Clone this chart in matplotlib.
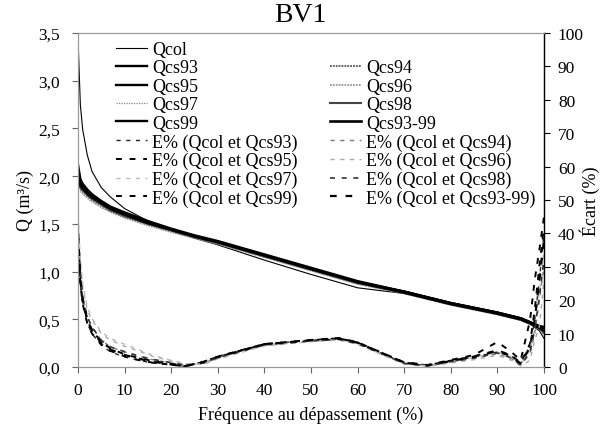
import matplotlib
matplotlib.use("Agg")
import matplotlib.pyplot as plt
from matplotlib.lines import Line2D
from matplotlib.ticker import FuncFormatter, MultipleLocator

plt.rcParams['font.family'] = ['Liberation Serif', 'DejaVu Serif']

# Flow duration curves (m3/s) vs exceedance frequency (%)
freq = [0, 0.5, 1, 2, 3, 5, 7, 10, 15, 20, 25, 30, 40, 50, 60, 70, 80, 90, 95, 97, 99, 100]

q_col = [3.45, 2.75, 2.49, 2.22, 2.05, 1.88, 1.78, 1.66, 1.53, 1.43, 1.35, 1.28, 1.12, 0.97, 0.83, 0.77, 0.66, 0.55, 0.49, 0.45, 0.38, 0.30]
q_cs93 = [2.12, 1.97, 1.92, 1.86, 1.81, 1.74, 1.68, 1.62, 1.53, 1.45, 1.38, 1.32, 1.18, 1.04, 0.90, 0.79, 0.67, 0.57, 0.51, 0.47, 0.42, 0.38]
q_cs94 = [1.95, 1.90, 1.86, 1.81, 1.77, 1.71, 1.65, 1.59, 1.50, 1.43, 1.36, 1.30, 1.16, 1.02, 0.88, 0.78, 0.66, 0.56, 0.50, 0.46, 0.41, 0.35]
q_cs95 = [2.05, 1.94, 1.90, 1.84, 1.80, 1.73, 1.67, 1.61, 1.52, 1.44, 1.37, 1.31, 1.17, 1.03, 0.89, 0.79, 0.67, 0.57, 0.51, 0.47, 0.42, 0.40]
q_cs96 = [1.88, 1.86, 1.83, 1.78, 1.74, 1.68, 1.63, 1.57, 1.49, 1.42, 1.35, 1.29, 1.15, 1.01, 0.87, 0.77, 0.65, 0.55, 0.49, 0.45, 0.40, 0.34]
q_cs97 = [1.85, 1.84, 1.81, 1.77, 1.73, 1.67, 1.62, 1.56, 1.48, 1.41, 1.35, 1.29, 1.15, 1.01, 0.87, 0.77, 0.65, 0.55, 0.49, 0.45, 0.41, 0.37]
q_cs98 = [1.92, 1.88, 1.85, 1.80, 1.76, 1.70, 1.64, 1.58, 1.50, 1.43, 1.36, 1.30, 1.16, 1.02, 0.88, 0.78, 0.66, 0.56, 0.50, 0.46, 0.41, 0.36]
q_cs99 = [2.00, 1.92, 1.88, 1.83, 1.79, 1.72, 1.66, 1.60, 1.51, 1.44, 1.37, 1.31, 1.17, 1.03, 0.89, 0.79, 0.67, 0.57, 0.51, 0.47, 0.43, 0.42]
q_cs9399 = [1.98, 1.91, 1.87, 1.82, 1.78, 1.72, 1.66, 1.60, 1.51, 1.44, 1.37, 1.31, 1.17, 1.03, 0.89, 0.78, 0.66, 0.56, 0.50, 0.46, 0.41, 0.38]

# Relative gap (%) between Qcol and each simulated series
freq_e = [0, 0.5, 1, 2, 3, 5, 7, 10, 13, 16, 20, 23, 27, 30, 40, 50, 56, 60, 65, 70, 75, 80, 85, 90, 93, 95, 97, 98, 99, 100]

e93 = [38, 25, 19, 13, 10, 6.5, 4.5, 3.0, 2.0, 1.2, 0.6, 0.2, 1.6, 3.2, 6.9, 8.0, 8.5, 7.2, 4.2, 1.2, 0.4, 1.8, 3.0, 4.5, 3.2, 1.0, 6, 14, 26, 40]
e94 = [43, 28, 21, 15, 12, 8, 6, 4.5, 3.2, 2.2, 1.2, 0.5, 1.2, 2.8, 6.6, 7.8, 8.3, 7.0, 4.0, 1.0, 0.3, 1.5, 2.6, 4.0, 2.5, 0.5, 4, 10, 20, 30]
e95 = [41, 26, 20, 14, 11, 7.5, 5.5, 3.8, 2.7, 1.8, 0.9, 0.3, 1.5, 3.0, 6.8, 8.0, 8.6, 7.3, 4.3, 1.3, 0.5, 1.9, 3.2, 5.0, 3.5, 1.2, 7, 17, 30, 42]
e96 = [45, 31, 24, 17, 14, 10, 8, 6.2, 4.8, 3.2, 1.8, 0.8, 0.9, 2.5, 6.4, 7.6, 8.1, 6.8, 3.8, 0.8, 0.2, 1.2, 2.2, 3.5, 2.0, 0.3, 2, 8, 12, 26]
e97 = [46, 32, 25, 18, 14.5, 10.5, 8.5, 6.8, 5.2, 3.5, 2.0, 1.0, 0.8, 2.4, 6.3, 7.6, 8.1, 6.9, 3.9, 0.9, 0.4, 1.5, 2.8, 4.5, 3.0, 0.7, 5, 12, 22, 35]
e98 = [42, 28, 21, 15, 12, 8, 6, 4.6, 3.3, 2.3, 1.3, 0.5, 1.2, 2.8, 6.6, 7.8, 8.3, 7.0, 4.1, 1.1, 0.3, 1.6, 2.7, 4.2, 2.7, 0.6, 4.5, 11, 21, 32]
e99 = [39, 25, 19, 13, 10, 6.8, 4.8, 3.2, 2.1, 1.3, 0.7, 0.2, 1.6, 3.1, 6.9, 8.1, 8.7, 7.4, 4.4, 1.4, 0.6, 2.1, 3.6, 7.5, 4.5, 2.0, 14, 26, 35, 45]
e9399 = [40, 26, 20, 14, 11, 7.2, 5.2, 3.6, 2.5, 1.6, 0.8, 0.3, 1.5, 3.0, 6.8, 8.0, 8.5, 7.3, 4.3, 1.3, 0.5, 1.8, 3.1, 4.8, 3.3, 1.0, 6, 14, 26, 38]

fig = plt.figure(figsize=(6.08, 4.35), dpi=100)
ax = fig.add_axes([78 / 608, 1 - 368 / 435, 466 / 608, 334 / 435])
ax2 = ax.twinx()

q_styles = [
    ("Qcol", q_col, dict(color="black", lw=0.8)),
    ("Qcs93", q_cs93, dict(color="black", lw=1.7)),
    ("Qcs94", q_cs94, dict(color="#555555", lw=1.3, ls=(0, (1, 0.6)))),
    ("Qcs95", q_cs95, dict(color="black", lw=1.7)),
    ("Qcs96", q_cs96, dict(color="#999999", lw=1.3, ls=(0, (1, 0.6)))),
    ("Qcs97", q_cs97, dict(color="#888888", lw=0.9, ls=(0, (1, 1)))),
    ("Qcs98", q_cs98, dict(color="#444444", lw=1.5)),
    ("Qcs99", q_cs99, dict(color="black", lw=1.7)),
    ("Qcs93-99", q_cs9399, dict(color="black", lw=1.9)),
]
e_styles = [
    ("E% (Qcol et Qcs93)", e93, dict(color="#222222", lw=1.0)),
    ("E% (Qcol et Qcs94)", e94, dict(color="#777777", lw=1.0)),
    ("E% (Qcol et Qcs95)", e95, dict(color="black", lw=1.4)),
    ("E% (Qcol et Qcs96)", e96, dict(color="#aaaaaa", lw=1.0)),
    ("E% (Qcol et Qcs97)", e97, dict(color="#bbbbbb", lw=1.0)),
    ("E% (Qcol et Qcs98)", e98, dict(color="#333333", lw=1.2)),
    ("E% (Qcol et Qcs99)", e99, dict(color="black", lw=1.4)),
    ("E% (Qcol et Qcs93-99)", e9399, dict(color="black", lw=1.6)),
]

handles = {}
for name, vals, st in q_styles:
    handles[name], = ax.plot(freq, vals, label=name, **st)
for name, vals, st in e_styles:
    handles[name], = ax2.plot(freq_e, vals, label=name, ls=(0, (3, 4)), **st)

ax.set_xlim(0, 100)
ax.set_ylim(0, 3.5)
ax2.set_ylim(0, 100)
ax.xaxis.set_major_locator(MultipleLocator(10))
ax.yaxis.set_major_locator(MultipleLocator(0.5))
ax2.yaxis.set_major_locator(MultipleLocator(10))
ax.yaxis.set_major_formatter(FuncFormatter(lambda v, p: f"{v:.1f}".replace(".", ",")))

for a in (ax, ax2):
    for s in a.spines.values():
        s.set_color("#999999")
        s.set_linewidth(0.8)
ax2.spines["right"].set_color("black")
ax2.spines["right"].set_linewidth(1.0)

ax.tick_params(direction="out", length=4, width=0.8, color="#666666", labelsize=12.5)
ax.tick_params(axis="x", pad=7)
ax.tick_params(axis="y", pad=9)
ax2.tick_params(direction="out", length=4, width=0.8, color="black", labelsize=12.5, pad=6)

ax.set_xlabel("Fréquence au dépassement (%)", fontsize=13, labelpad=5)
ax.set_ylabel("Q (m³/s)", fontsize=13, labelpad=3)
ax2.set_ylabel("Écart (%)", fontsize=13, labelpad=-3)
fig.text(300 / 608, 1 - 15 / 435, "BV1", fontsize=20, ha="center", va="center")

blank = Line2D([], [], linestyle="none")
order_left = ["Qcol", "Qcs93", "Qcs95", "Qcs97", "Qcs99",
              "E% (Qcol et Qcs93)", "E% (Qcol et Qcs95)", "E% (Qcol et Qcs97)", "E% (Qcol et Qcs99)"]
order_right = ["Qcs94", "Qcs96", "Qcs98", "Qcs93-99",
               "E% (Qcol et Qcs94)", "E% (Qcol et Qcs96)", "E% (Qcol et Qcs98)", "E% (Qcol et Qcs93-99)"]
leg_handles = [handles[n] for n in order_left] + [blank] + [handles[n] for n in order_right]
leg_labels = order_left + [" "] + order_right
fig.legend(leg_handles, leg_labels, ncol=2, frameon=False, fontsize=13,
           loc="upper left", bbox_to_anchor=(116 / 608, 1 - 42 / 435),
           borderpad=0, borderaxespad=0, labelspacing=0.08,
           handlelength=1.7, handletextpad=0.3, columnspacing=1.8)

fig.savefig("out.png", dpi=100)
